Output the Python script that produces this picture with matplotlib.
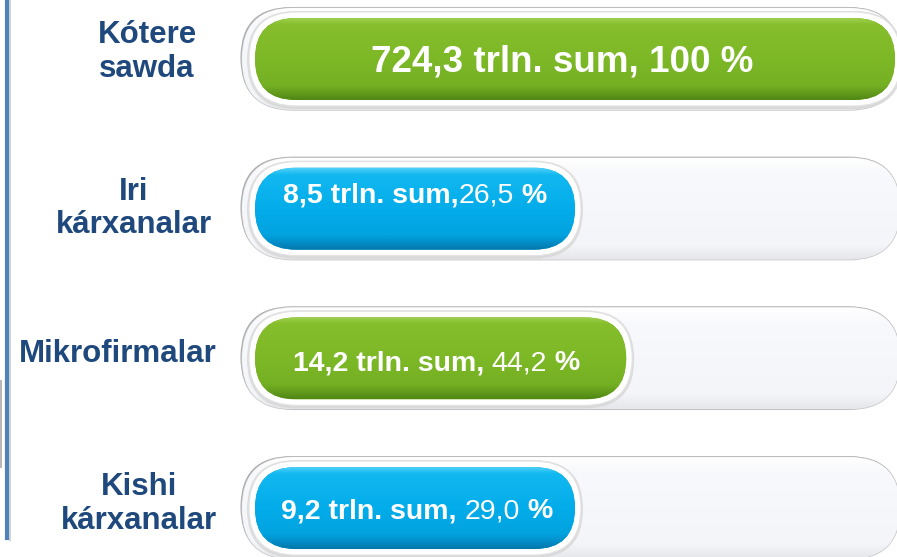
import matplotlib
matplotlib.use("Agg")
import matplotlib.pyplot as plt
import numpy as np
from matplotlib.patches import FancyBboxPatch, Rectangle
from matplotlib.lines import Line2D
from matplotlib.offsetbox import TextArea, HPacker, AnnotationBbox
from matplotlib.colors import LinearSegmentedColormap

# ---------------- data ----------------
categories = ["Kótere\nsawda", "Iri\nkárxanalar", "Mikrofirmalar", "Kishi\nkárxanalar"]
amounts = ["724,3", "8,5", "14,2", "9,2"]          # trln. sum
shares = ["100", "26,5", "44,2", "29,0"]            # %
bar_fill = [100, 50, 58, 50]                        # visible bar length (% of track)
bar_kind = ["green", "blue", "green", "blue"]

# ---------------- style ----------------
W, H, DPI = 897, 557, 100
FONT = "Liberation Sans"
NAVY = "#1f497d"
grad_stops = {
    "green": [(0.0, "#9fd04f"), (0.08, "#86be2c"), (0.5, "#7db827"), (0.82, "#74b023"), (0.93, "#5f981b"), (1.0, "#4f8615")],
    "blue": [(0.0, "#4fd0f8"), (0.08, "#12b8f0"), (0.5, "#03acea"), (0.82, "#02a3df"), (0.93, "#0288c2"), (1.0, "#0476a8")],
}

fig = plt.figure(figsize=(W / DPI, H / DPI), dpi=DPI)
ax = fig.add_axes([0, 0, 1, 1])
XL = (-39.84, 100.31)
YL = (3.327, -0.394)
ax.set_xlim(XL)
ax.set_ylim(YL)
ax.axis("off")

xpx = W / (XL[1] - XL[0])      # pixels per x unit
ypx = H / abs(YL[1] - YL[0])   # pixels per y unit
asp = xpx / ypx


def px_x(p):
    return p / xpx


def px_y(p):
    return p / ypx


def pill(x0, x1, yc, h, z, **kw):
    p = FancyBboxPatch((x0, yc - h / 2), x1 - x0, h,
                       boxstyle=f"round,pad=0,rounding_size={h / 2 / asp}",
                       mutation_aspect=asp, zorder=z, **kw)
    ax.add_patch(p)
    return p


def gradient(patch, x0, x1, yc, h, stops, z):
    cmap = LinearSegmentedColormap.from_list("g", stops)
    g = np.linspace(0, 1, 256).reshape(-1, 1)
    im = ax.imshow(g, cmap=cmap, extent=(x0, x1, yc + h / 2, yc - h / 2),
                   aspect="auto", origin="upper", zorder=z, interpolation="bilinear")
    im.set_clip_path(patch)


rows = np.arange(len(categories))
track_h = px_y(102)
bar_h = px_y(82)
ring = 6

label_x_px = [147, 134, 118, 139]
label_dy_px = [-7, 0, -4, -4]
text_dy_px = [3, -13, 5, 3]
text_dx_px = [-13, 0, -4, 2]

for i, r in enumerate(rows):
    # track shadow + track
    tx0, tx1 = px_x(-13), 100 + px_x(5)
    pill(tx0 - px_x(1.5), tx1, r - px_y(1.0), track_h, 1, facecolor="#a9a9a9", edgecolor="none")
    tp = pill(tx0, tx1, r, track_h, 2, facecolor="#f6f7fa", edgecolor="#c4c4c4", linewidth=1.0)
    gradient(tp, tx0, tx1, r, track_h,
             [(0, "#ffffff"), (0.15, "#f8f9fc"), (0.85, "#f4f5f9"), (1, "#e4e6ea")], 2.5)

    # white ring around the bar
    x0, x1 = 0, bar_fill[i]
    pill(x0 - px_x(ring + 2), x1 + px_x(ring + 2), r + px_y(1), bar_h + px_y(2 * ring + 4), 3,
         facecolor="#d6d6d6", edgecolor="none", alpha=0.8)
    pill(x0 - px_x(ring), x1 + px_x(ring), r, bar_h + px_y(2 * ring), 4,
         facecolor="white", edgecolor="#e2e2e2", linewidth=0.8)

    # coloured bar with vertical gradient
    bp = pill(x0, x1, r, bar_h, 5, facecolor=grad_stops[bar_kind[i]][2][1], edgecolor="none")
    gradient(bp, x0, x1, r, bar_h, grad_stops[bar_kind[i]], 6)

    # value text
    cx = (x0 + x1) / 2 + px_x(text_dx_px[i])
    cy = r + px_y(text_dy_px[i])
    if i == 0:
        ax.text(cx, cy, f"{amounts[i]} trln. sum, {shares[i]} %", color="white",
                fontsize=26.5, fontweight="bold", family=FONT, ha="center", va="center", zorder=8)
    else:
        sep = "," if i == 1 else ", "
        fs = 20.5
        parts = [TextArea(f"{amounts[i]} trln. sum{sep}",
                          textprops=dict(color="white", fontsize=fs, fontweight="bold", family=FONT)),
                 TextArea(shares[i], textprops=dict(color="white", fontsize=fs, family=FONT)),
                 TextArea(" %", textprops=dict(color="white", fontsize=fs, fontweight="bold", family=FONT))]
        pack = HPacker(children=parts, align="baseline", pad=0, sep=0)
        ab = AnnotationBbox(pack, (cx, cy), xycoords="data", frameon=False,
                            box_alignment=(0.5, 0.5), pad=0, zorder=8)
        ax.add_artist(ab)

    # category label
    ax.text(label_x_px[i] / W, r + px_y(label_dy_px[i]), categories[i],
            transform=ax.get_yaxis_transform(), color=NAVY, fontsize=22.5,
            fontweight="bold", family=FONT, ha="center", va="center",
            linespacing=1.15, zorder=8)

# left decorations
fig.add_artist(Rectangle((0, 1 - 468 / H), 2 / W, 88 / H, transform=fig.transFigure,
                         facecolor="#b8b8b8", edgecolor="none"))
fig.add_artist(Line2D([10 / W, 10 / W], [1, 1 - 540 / H], transform=fig.transFigure,
                      color="#d5d5d5", linewidth=1.5))
fig.add_artist(Line2D([6.5 / W, 6.5 / W], [1, 1 - 538 / H], transform=fig.transFigure,
                      color="#4f81bd", linewidth=3.0))

fig.savefig("out.png", dpi=DPI)
